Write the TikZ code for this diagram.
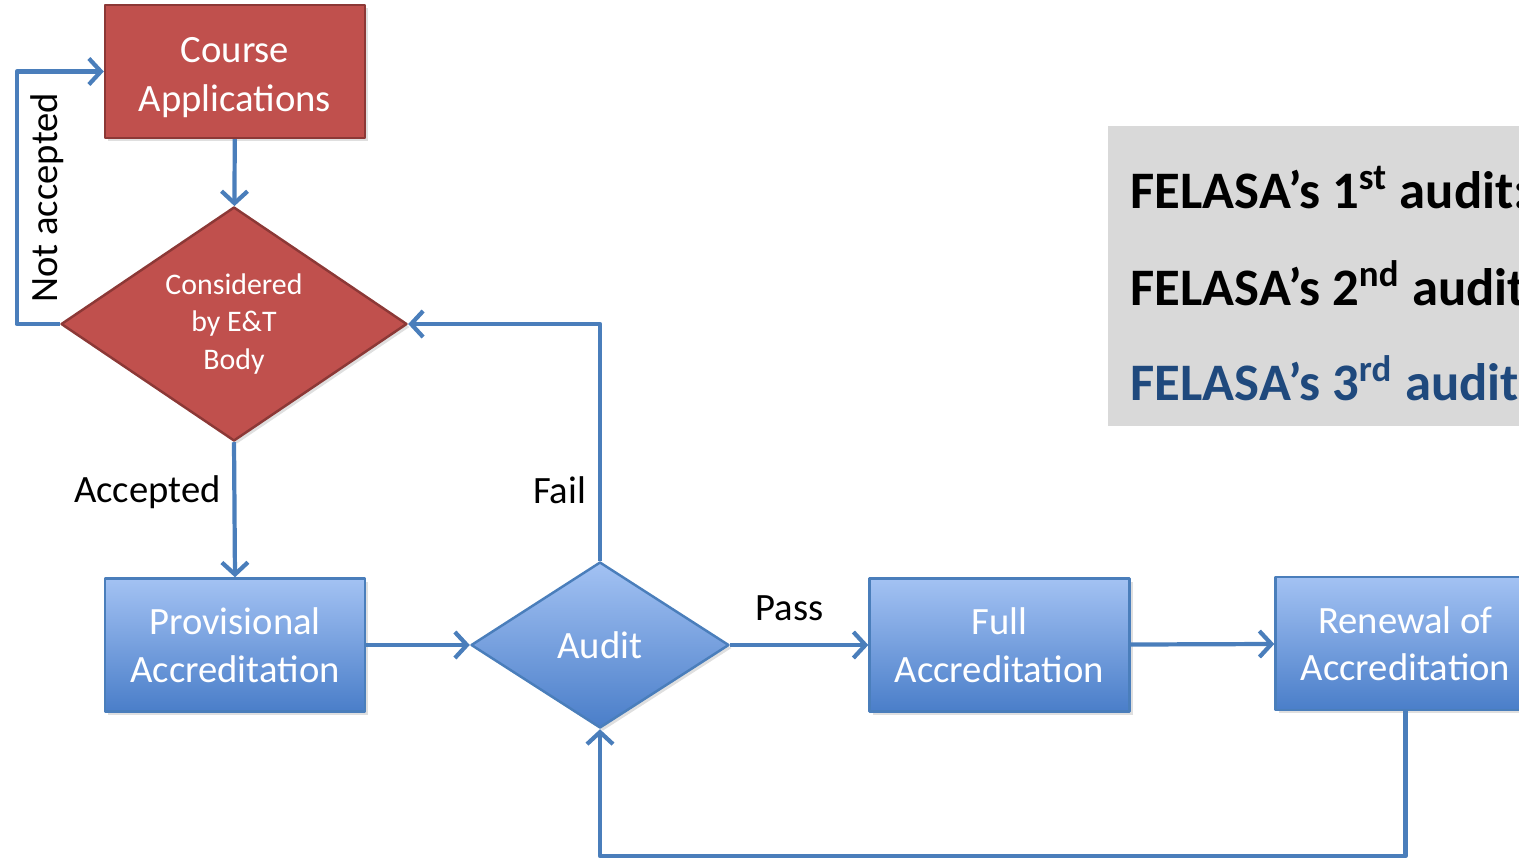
\documentclass[tikz,border=0pt]{standalone}
\usepackage{fontspec}
\setmainfont{Carlito}
\usetikzlibrary{shapes.geometric,arrows.meta,shadows}
\definecolor{redfill}{HTML}{C0504D}
\definecolor{redline}{HTML}{8C3836}
\definecolor{bluetop}{HTML}{A3C2F3}
\definecolor{bluebot}{HTML}{4A7EC9}
\definecolor{blueline}{HTML}{4A7EBB}
\definecolor{greyfill}{HTML}{D9D9D9}
\definecolor{darkblue}{HTML}{1F497D}
\begin{document}
\begin{tikzpicture}[line join=round, font=\fontsize{11}{13.5}\selectfont,
		redbox/.style={rectangle, draw=redline, line width=0.7pt, fill=redfill, text=white, align=center,
			minimum width=2.6cm, minimum height=1.33cm, drop shadow={shadow xshift=0.3mm, shadow yshift=-0.3mm, opacity=0.25}},
		bluebox/.style={rectangle, draw=blueline, line width=0.7pt, top color=bluetop, bottom color=bluebot, text=white, align=center,
			minimum width=2.6cm, minimum height=1.33cm, drop shadow={shadow xshift=0.3mm, shadow yshift=-0.3mm, opacity=0.25}},
		decide/.style={diamond, inner sep=0pt, aspect=1.5, text=white, align=center},
		flow/.style={draw=blueline, line width=1.2pt, -{Straight Barb[length=1.2mm,width=2.6mm]}},
		audittext/.style={anchor=base west, inner sep=0pt, font=\fontsize{15}{18}\selectfont\bfseries}]
			\def\W{15.19}
			\def\H{8.59}
			\useasboundingbox (0,0) rectangle (\W,\H);
			\clip (0,0) rectangle (\W,\H);
			\fill[greyfill] (11.08,4.33) rectangle (15.6,7.33);
			\node[audittext] (first) at (11.30,6.51) {FELASA’s 1\textsuperscript{st} audit:};
			\node[audittext] (second) at (11.30,5.54) {FELASA’s 2\textsuperscript{nd} audit};
			\node[audittext, text=darkblue] (third) at (11.30,4.59) {FELASA’s 3\textsuperscript{rd} audit};
			\node[redbox, text depth=0pt] (course) at (2.35,7.875) {\raisebox{-0.6mm}{\shortstack{Course\\[1.1mm]Applications}}};
			\node[decide, draw=redline, line width=0.7pt, fill=redfill, minimum width=3.46cm, minimum height=2.34cm,
				font=\fontsize{8.5}{10.7}\selectfont, drop shadow={shadow xshift=0.3mm, shadow yshift=-0.3mm, opacity=0.25}] (cons) at (2.34,5.35) {Considered\\by E\&T\\Body};
			\node[bluebox] (prov) at (2.35,2.14) {Provisional\\Accreditation};
			\node[decide, draw=blueline, line width=0.7pt, top color=bluetop, bottom color=bluebot, minimum width=2.58cm, minimum height=1.66cm,
				drop shadow={shadow xshift=0.3mm, shadow yshift=-0.3mm, opacity=0.25}] (audit) at (6.00,2.14) {Audit};
			\node[bluebox] (full) at (9.995,2.14) {Full\\Accreditation};
			\node[bluebox] (renew) at (14.055,2.155) {Renewal of\\Accreditation};
			\draw[flow] (course) -- (cons);
			\draw[flow] (cons.west) -- ++(-0.43,0) |- node[pos=0.25, rotate=90, anchor=north]{Not accepted} (course.west);
			\draw[flow] (cons.south) -- node[pos=0.37, left]{Accepted} (prov.north);
			\draw[flow] (prov) -- (audit);
			\draw[flow] (audit.north) |- node[pos=0.15, left]{Fail} (cons.east);
			\draw[flow] (audit) -- node[pos=0.43, above=1mm]{Pass} (full);
			\draw[flow] (full) -- (renew);
			\draw[flow] (renew.south) -- ++(0,-1.45) -| (audit.south);
		\end{tikzpicture}
\end{document}
